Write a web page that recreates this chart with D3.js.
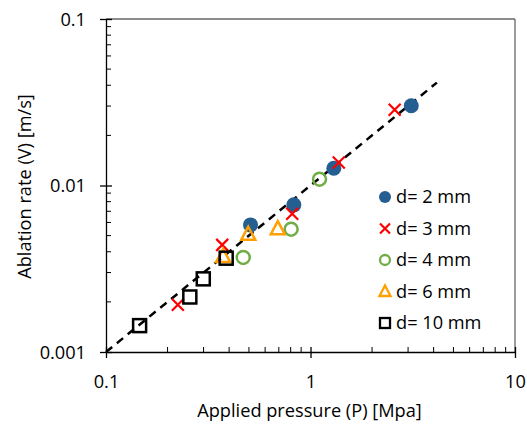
<!DOCTYPE html>
<html>
<head>
<meta charset="utf-8">
<script src="https://cdn.jsdelivr.net/npm/d3@7"></script>
<style>
  body { margin: 0; background: #fff; }
  svg { display: block; font-family: "Open Sans", Lato, sans-serif; }
</style>
</head>
<body>
<svg id="chart" width="527" height="425"></svg>
<script>
// data: applied pressure P [MPa] and ablation rate V [m/s]
const d2P = [0.509, 0.829, 1.30, 3.11];
const d2V = [0.0058, 0.00765, 0.0127, 0.0301];
const d3P = [0.2245, 0.37, 0.814, 1.375, 2.58];
const d3V = [0.00192, 0.0044, 0.00676, 0.01374, 0.0285];
const d4P = [0.469, 0.804, 1.107];
const d4V = [0.0037, 0.00547, 0.01092];
const d6P = [0.374, 0.496, 0.692];
const d6V = [0.00372, 0.00506, 0.00547];
const d10P = [0.146, 0.257, 0.299, 0.387];
const d10V = [0.00144, 0.00214, 0.00275, 0.00366];
const fitP = [0.1, 4.15];
const fitV = [0.001, 0.0415];
const xTicks = [0.1, 1, 10];
const yTicks = [0.001, 0.01, 0.1];
const seriesNames = ['d= 2 mm', 'd= 3 mm', 'd= 4 mm', 'd= 6 mm', 'd= 10 mm'];

const svg = d3.select('#chart');
const margin = { left: 106, top: 19, right: 12, bottom: 73 };
const W = 527, H = 425;
const FONT = '"Open Sans", sans-serif';
const FS = 18.2;
const x = d3.scaleLog().domain([0.1, 10]).range([margin.left, W - margin.right]);
const y = d3.scaleLog().domain([0.001, 0.1]).range([H - margin.bottom, margin.top]);

// plot frame (top / right in grey)
svg.append('line').attr('x1', x(0.1)).attr('x2', x(10)).attr('y1', y(0.1)).attr('y2', y(0.1))
  .attr('stroke', '#666').attr('stroke-width', 1.3);
svg.append('line').attr('x1', x(10)).attr('x2', x(10)).attr('y1', y(0.1)).attr('y2', y(0.001))
  .attr('stroke', '#666').attr('stroke-width', 1.3);

// minor ticks
const minors = (lo, hi) => {
  const out = [];
  for (let e = lo; e < hi; e++) for (let k = 2; k <= 9; k++) out.push(k * Math.pow(10, e));
  return out;
};
svg.append('g').selectAll('line').data(minors(-1, 1)).join('line')
  .attr('x1', d => x(d)).attr('x2', d => x(d))
  .attr('y1', y(0.001)).attr('y2', y(0.001) - 5)
  .attr('stroke', '#000').attr('stroke-width', 1);
svg.append('g').selectAll('line').data(minors(-3, -1)).join('line')
  .attr('x1', x(0.1)).attr('x2', x(0.1) + 5)
  .attr('y1', d => y(d)).attr('y2', d => y(d))
  .attr('stroke', '#000').attr('stroke-width', 1);

// x axis
const xAxis = svg.append('g').attr('transform', `translate(0,${y(0.001)})`)
  .call(d3.axisBottom(x).tickValues(xTicks).tickFormat(d3.format('~g')).tickSize(6).tickSizeOuter(0));
xAxis.select('.domain').attr('stroke', '#000').attr('stroke-width', 1.3);
xAxis.selectAll('.tick line').attr('y1', -5).attr('stroke-width', 1.3);
xAxis.selectAll('.tick text').attr('dy', null).attr('y', 36).attr('font-size', FS)
  .attr('font-family', FONT).attr('fill', '#000');

// y axis
const yAxis = svg.append('g').attr('transform', `translate(${x(0.1)},0)`)
  .call(d3.axisLeft(y).tickValues(yTicks).tickFormat(d3.format('~g')).tickSize(6).tickSizeOuter(0));
yAxis.select('.domain').attr('stroke', '#000').attr('stroke-width', 1.3);
yAxis.selectAll('.tick line').attr('x1', 6).attr('x2', -6).attr('stroke-width', 1.3);
yAxis.selectAll('.tick text').attr('x', -20).attr('dy', '0.35em').attr('font-size', FS)
  .attr('font-family', FONT).attr('fill', '#000');

// axis titles
svg.append('text').attr('x', (x(0.1) + x(10)) / 2 - 1).attr('y', 417)
  .attr('text-anchor', 'middle').attr('font-size', FS).text('Applied pressure (P) [Mpa]');
svg.append('text').attr('transform', `translate(31,${(y(0.1) + y(0.001)) / 2 + 1}) rotate(-90)`)
  .attr('text-anchor', 'middle').attr('font-size', FS).text('Ablation rate (V) [m/s]');

// fit line
const line = d3.line().x(d => x(d[0])).y(d => y(d[1]));
svg.append('path').datum(d3.zip(fitP, fitV)).attr('d', line)
  .attr('fill', 'none').attr('stroke', '#000').attr('stroke-width', 2.5)
  .attr('stroke-dasharray', '8,6');

// marker painters
const painters = [
  (g) => g.append('circle').attr('r', 7.5).attr('fill', '#255e91'),
  (g) => g.append('path').attr('d', 'M-6,-6L6,6M-6,6L6,-6').attr('stroke', '#ff0000').attr('stroke-width', 2.2).attr('fill', 'none'),
  (g) => g.append('circle').attr('r', 6.5).attr('fill', 'none').attr('stroke', '#70ad47').attr('stroke-width', 2.5),
  (g) => g.append('path').attr('d', 'M0,-8L7,5L-7,5Z').attr('fill', 'none').attr('stroke', '#ffa000').attr('stroke-width', 2.5),
  (g) => g.append('rect').attr('x', -6.5).attr('y', -6.5).attr('width', 13).attr('height', 13).attr('fill', 'none').attr('stroke', '#000').attr('stroke-width', 2.5)
];
const legendPainters = [
  (g) => g.append('circle').attr('r', 6).attr('fill', '#255e91'),
  (g) => g.append('path').attr('d', 'M-5,-5L5,5M-5,5L5,-5').attr('stroke', '#ff0000').attr('stroke-width', 2.2).attr('fill', 'none'),
  (g) => g.append('circle').attr('r', 5).attr('fill', 'none').attr('stroke', '#70ad47').attr('stroke-width', 2.3),
  (g) => g.append('path').attr('d', 'M0,-6L5.5,4.5L-5.5,4.5Z').attr('fill', 'none').attr('stroke', '#ffa000').attr('stroke-width', 2.3),
  (g) => g.append('rect').attr('x', -5).attr('y', -5).attr('width', 10).attr('height', 10).attr('fill', 'none').attr('stroke', '#000').attr('stroke-width', 2.3)
];

const series = [
  [d2P, d2V], [d3P, d3V], [d4P, d4V], [d6P, d6V], [d10P, d10V]
];
// draw order like the spreadsheet: later series on top
series.forEach((s, i) => {
  const pts = d3.zip(s[0], s[1]);
  svg.append('g').selectAll('g').data(pts).join('g')
    .attr('transform', d => `translate(${x(d[0])},${y(d[1])})`)
    .each(function () { painters[i](d3.select(this)); });
});

// legend
const legend = svg.append('g').attr('transform', 'translate(385,197)');
seriesNames.forEach((name, i) => {
  const row = legend.append('g').attr('transform', `translate(0,${i * 31.5})`);
  legendPainters[i](row);
  row.append('text').attr('x', 11).attr('dy', '0.35em').attr('font-size', FS).text(name);
});
</script>
</body>
</html>
